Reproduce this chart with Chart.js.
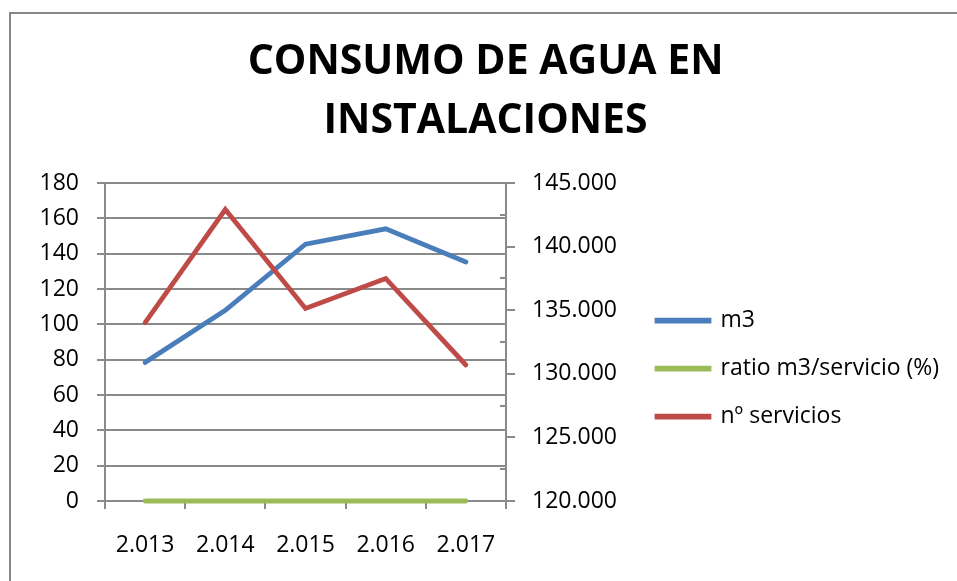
<!DOCTYPE html>
<html>
<head>
<meta charset="utf-8">
<script src="https://cdn.jsdelivr.net/npm/chart.js@4/dist/chart.umd.min.js"></script>
<style>
  html, body { margin: 0; padding: 0; background: #fff; }
  #wrap { width: 957px; height: 581px; }
</style>
</head>
<body>
<div id="wrap"><canvas id="aguaChart" width="957" height="581"></canvas></div>
<script>
const years     = ['2.013', '2.014', '2.015', '2.016', '2.017']
const m3        = [130900, 135000, 140200, 141400, 138800]   // eje derecho
const ratio     = [0, 0, 0, 0, 0]
const servicios = [101, 165, 109, 126, 77]
const leftTicks = { min: 0, max: 180, step: 20 }
const rightTicks = { min: 120000, max: 145000, step: 5000 }
const seriesNames = ['m3', 'ratio m3/servicio (%)', 'nº servicios']

const FONT = '"Open Sans", sans-serif'
const GRID = '#8a8a8a'
const LEG_FONT = 23, LEG_BOX = 52, LEG_PAD = 25
const PAD_LEFT = 30

// legend width, so the right axis can fill the gap up to it
const mctx = document.createElement('canvas').getContext('2d')
mctx.font = `${LEG_FONT}px ${FONT}`
const legendW = LEG_PAD + LEG_BOX + LEG_FONT / 2 + Math.max(...seriesNames.map(n => mctx.measureText(n).width)) + 2
const legendLeft = 632
const padRight = Math.max(0, 957 - legendLeft - legendW)

const thousands = (v) => String(v).replace(/\B(?=(\d{3})+(?!\d))/g, '.')

// gray frame around the chart (only top/left edges are inside the window)
const framePlugin = {
  id: 'frame',
  beforeDraw(chart) {
    const c = chart.ctx
    c.save()
    c.strokeStyle = '#878787'
    c.lineWidth = 2
    c.beginPath()
    c.moveTo(10, 581)
    c.lineTo(10, 13)
    c.lineTo(957, 13)
    c.stroke()
    c.restore()
  }
}

// small inward minor ticks on the right axis
const minorTicks = {
  id: 'minorTicks',
  afterDraw(chart) {
    const s = chart.scales.y1
    const c = chart.ctx
    c.save()
    c.strokeStyle = GRID
    c.lineWidth = 2
    for (let i = 0; i < s.ticks.length - 1; i++) {
      const y = Math.round(s.getPixelForValue((s.ticks[i].value + s.ticks[i + 1].value) / 2))
      c.beginPath()
      c.moveTo(s.left - 6, y)
      c.lineTo(s.left, y)
      c.stroke()
    }
    c.restore()
  }
}

// the layout caps side boxes at ~1/6 of the width; let the legend keep its real width
const legendFit = {
  id: 'legendFit',
  beforeUpdate(chart) {
    const lg = chart.legend
    if (!lg || lg._wide) return
    const fit = lg.fit
    lg.fit = function () { fit.call(this); this.width = legendW }
    lg._wide = true
  }
}

const lineStyle = (color) => ({
  borderColor: color,
  backgroundColor: color,
  borderWidth: 4.8,
  borderCapStyle: 'round',
  pointRadius: 0,
  pointHoverRadius: 0,
  tension: 0,
  clip: false
})

new Chart(document.getElementById('aguaChart'), {
  type: 'line',
  data: {
    labels: years,
    datasets: [
      { label: seriesNames[0], data: m3, yAxisID: 'y1', order: 1, ...lineStyle('#4a7ebb') },
      { label: seriesNames[1], data: ratio, yAxisID: 'y', order: 2, ...lineStyle('#9bbb59') },
      { label: seriesNames[2], data: servicios, yAxisID: 'y', order: 0, ...lineStyle('#be4b48') }
    ]
  },
  options: {
    responsive: false,
    animation: false,
    events: [],
    layout: { padding: { left: PAD_LEFT, right: padRight, top: 0, bottom: 0 } },
    plugins: {
      title: {
        display: true,
        text: ['CONSUMO DE AGUA EN', 'INSTALACIONES'],
        color: '#000',
        font: { family: FONT, size: 41, weight: 'bold', lineHeight: 1.44 },
        padding: { top: 33, bottom: 32 }
      },
      legend: {
        position: 'right',
        align: 'start',
        fullSize: false,
        title: { display: true, text: ' ', font: { size: 10 }, padding: { top: 44, bottom: 45 } },
        labels: {
          color: '#000',
          font: { family: FONT, size: LEG_FONT },
          boxWidth: LEG_BOX,
          boxHeight: 1,
          padding: LEG_PAD,
          sort: (a, b) => a.datasetIndex - b.datasetIndex
        }
      },
      tooltip: { enabled: false }
    },
    scales: {
      x: {
        type: 'category',
        offset: true,
        grid: { offset: true, drawOnChartArea: false, color: GRID, lineWidth: 2, tickLength: 8 },
        border: { color: GRID, width: 2 },
        ticks: { color: '#000', font: { family: FONT, size: 23 }, padding: 23, maxRotation: 0 },
        afterFit: (s) => { s.height = 80 }
      },
      y: {
        position: 'left',
        min: leftTicks.min,
        max: leftTicks.max,
        ticks: { stepSize: leftTicks.step, color: '#000', font: { family: FONT, size: 23 }, padding: 18 },
        grid: { color: GRID, lineWidth: 2, tickLength: 8 },
        border: { color: GRID, width: 2 },
        afterFit: (s) => { s.width = 105 - PAD_LEFT }
      },
      y1: {
        position: 'right',
        min: rightTicks.min,
        max: rightTicks.max,
        ticks: {
          stepSize: rightTicks.step,
          color: '#000',
          font: { family: FONT, size: 23 },
          padding: 17,
          callback: (v) => thousands(v)
        },
        grid: { drawOnChartArea: false, color: GRID, lineWidth: 2, tickLength: 9 },
        border: { color: GRID, width: 2 },
        afterFit: (s) => { s.width = legendLeft - 506 }
      }
    }
  },
  plugins: [framePlugin, minorTicks, legendFit]
})
</script>
</body>
</html>
